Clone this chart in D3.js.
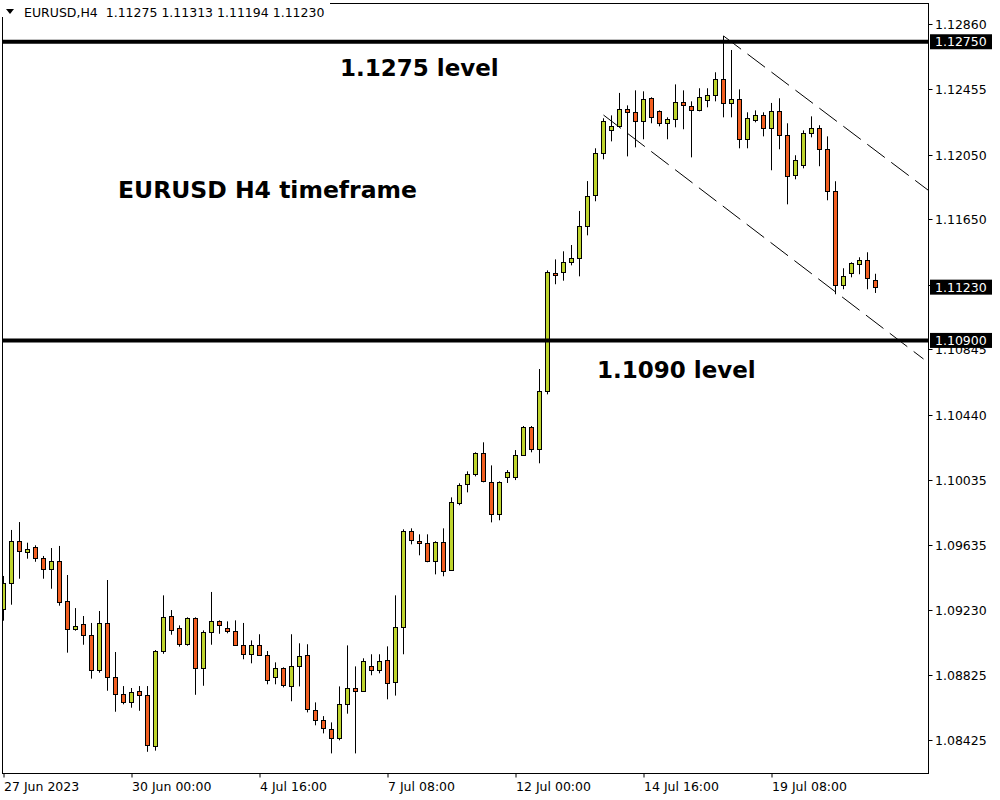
<!DOCTYPE html>
<html><head><meta charset="utf-8">
<script src="https://cdn.jsdelivr.net/npm/d3@7"></script>
<style>
html,body{margin:0;padding:0;background:#fff;}
svg{display:block;}
text{font-family:"DejaVu Sans",Verdana,sans-serif;}
</style></head><body>
<svg id="chart" width="1000" height="800"></svg>
<script>
// ---- DATA ----
const openP = [1.09234,1.09395,1.09656,1.09588,1.09618,1.09550,1.09486,1.09532,1.09284,1.09111,
1.09142,1.09073,1.08857,1.09148,1.08813,1.08708,1.08658,1.08726,1.08702,1.08386,
1.08974,1.09191,1.09117,1.09018,1.09179,1.08869,1.09092,1.09160,1.09117,1.09098,
1.09011,1.08956,1.09011,1.08949,1.08813,1.08869,1.08757,1.08881,1.08949,1.08609,
1.08547,1.08491,1.08435,1.08646,1.08745,1.08726,1.08881,1.08857,1.08919,1.08782,
1.09123,1.09718,1.09656,1.09643,1.09532,1.09649,1.09476,1.09891,1.10009,1.10071,
1.10201,1.10021,1.09823,1.10052,1.10052,1.10190,1.10364,1.10226,1.10587,1.11316,
1.11322,1.11384,1.11409,1.11607,1.11799,1.12059,1.12201,1.12226,1.12332,1.12313,
1.12257,1.12400,1.12319,1.12245,1.12270,1.12375,1.12350,1.12325,1.12387,1.12418,
1.12517,1.12369,1.12394,1.12146,1.12263,1.12294,1.12214,1.12319,1.12171,1.11923,
1.11985,1.12183,1.12214,1.12084,1.11824,1.11241,1.11316,1.11371,1.11396,1.11275];
const highP = [1.09441,1.09726,1.09775,1.09647,1.09631,1.09565,1.09614,1.09627,1.09447,1.09242,
1.09193,1.09150,1.09224,1.09416,1.08970,1.08759,1.08747,1.08759,1.08759,1.08982,
1.09321,1.09230,1.09135,1.09185,1.09185,1.09104,1.09342,1.09166,1.09160,1.09166,
1.09150,1.09042,1.09080,1.08976,1.08906,1.08875,1.09080,1.09024,1.09018,1.08658,
1.08573,1.08534,1.08757,1.09011,1.08881,1.08931,1.08956,1.08956,1.09005,1.09321,
1.09730,1.09736,1.09699,1.09699,1.09656,1.09736,1.09928,1.10015,1.10089,1.10207,
1.10269,1.10126,1.10027,1.10097,1.10221,1.10370,1.10370,1.10723,1.11334,1.11402,
1.11452,1.11491,1.11702,1.11887,1.12090,1.12276,1.12294,1.12433,1.12356,1.12449,
1.12443,1.12406,1.12325,1.12282,1.12486,1.12449,1.12381,1.12462,1.12462,1.12561,
1.12786,1.12699,1.12455,1.12313,1.12325,1.12313,1.12371,1.12400,1.12245,1.12047,
1.12201,1.12288,1.12233,1.12164,1.11886,1.11347,1.11384,1.11415,1.11446,1.11313];
const lowP = [1.09164,1.09263,1.09424,1.09548,1.09529,1.09424,1.09362,1.09257,1.08966,1.09102,
1.09015,1.08805,1.08842,1.08730,1.08600,1.08646,1.08625,1.08606,1.08352,1.08359,
1.08959,1.09077,1.09003,1.09009,1.08705,1.08761,1.09015,1.09083,1.09086,1.09011,
1.08925,1.08900,1.08949,1.08770,1.08770,1.08751,1.08665,1.08757,1.08596,1.08516,
1.08466,1.08342,1.08423,1.08588,1.08342,1.08726,1.08826,1.08838,1.08677,1.08700,
1.08956,1.09637,1.09569,1.09526,1.09451,1.09439,1.09476,1.09879,1.09959,1.10058,
1.10021,1.09773,1.09786,1.10017,1.10035,1.10190,1.10207,1.10139,1.10566,1.11248,
1.11270,1.11365,1.11297,1.11551,1.11762,1.12022,1.12133,1.12220,1.12040,1.12096,
1.12146,1.12245,1.12226,1.12146,1.12220,1.12208,1.12034,1.12319,1.12344,1.12381,
1.12282,1.12282,1.12090,1.12090,1.12251,1.12164,1.11954,1.12084,1.11743,1.11898,
1.11966,1.12158,1.11979,1.11768,1.11186,1.11217,1.11291,1.11310,1.11217,1.11194];
const closeP = [1.09395,1.09656,1.09594,1.09606,1.09550,1.09486,1.09532,1.09278,1.09111,1.09129,
1.09073,1.08857,1.09148,1.08813,1.08708,1.08658,1.08720,1.08702,1.08392,1.08974,
1.09185,1.09104,1.09018,1.09179,1.08869,1.09092,1.09160,1.09135,1.09098,1.09011,
1.08956,1.09011,1.08949,1.08795,1.08869,1.08764,1.08881,1.08943,1.08615,1.08547,
1.08497,1.08435,1.08646,1.08745,1.08726,1.08912,1.08857,1.08912,1.08776,1.09123,
1.09718,1.09662,1.09643,1.09532,1.09649,1.09470,1.09897,1.10003,1.10071,1.10201,
1.10027,1.09823,1.10021,1.10085,1.10190,1.10364,1.10226,1.10587,1.11322,1.11303,
1.11384,1.11409,1.11607,1.11793,1.12059,1.12257,1.12226,1.12332,1.12313,1.12257,
1.12394,1.12282,1.12245,1.12270,1.12375,1.12356,1.12325,1.12406,1.12418,1.12517,
1.12369,1.12394,1.12146,1.12276,1.12294,1.12214,1.12319,1.12171,1.11917,1.12016,
1.12183,1.12214,1.12084,1.11824,1.11241,1.11297,1.11378,1.11396,1.11285,1.11230];

const yTickValues = [1.12860,1.12455,1.12050,1.11650,1.11245,1.10845,1.10440,1.10035,1.09635,1.09230,1.08825,1.08425];
const xTickIndex = [0,16,32,48,64,80,96];
const xTickLabels = ["27 Jun 2023","30 Jun 00:00","4 Jul 16:00","7 Jul 08:00","12 Jul 00:00","14 Jul 16:00","19 Jul 08:00"];
const levelPrices = [1.12750, 1.10900];
const levelTexts = ["1.1275 level", "1.1090 level"];
const currentPrice = 1.11230;
const trendUpper = [[90, 1.12786], [115.6, 1.11830]];
const trendLower = [[75, 1.12296], [115, 1.10785]];
const headerText = "EURUSD,H4  1.11275 1.11313 1.11194 1.11230";
const titleText = "EURUSD H4 timeframe";

// ---- LAYOUT ----
const svg = d3.select("#chart");
const plot = {left: 2.5, top: 3.5, right: 928.5, bottom: 773.5};
const x = d3.scaleLinear().domain([0, 109]).range([3.5, 875.5]);
const y = d3.scaleLinear().domain([1.08425, 1.12860]).range([740, 24]);
const bullColor = "#bed42d", bearColor = "#f25e20";
const smallFont = 12.5;

svg.append("defs").append("clipPath").attr("id","clip")
  .append("rect").attr("x", plot.left+0.5).attr("y", plot.top+0.5)
  .attr("width", plot.right-plot.left-1).attr("height", plot.bottom-plot.top-1);

const g = svg.append("g").attr("clip-path","url(#clip)");

const data = openP.map((o,i)=>({i, o, h: highP[i], l: lowP[i], c: closeP[i]}));

// trend lines (dashed)
const line = d3.line().x(d=>x(d[0])).y(d=>y(d[1]));
[trendUpper, trendLower].forEach(t=>{
  g.append("path").attr("d", line(t)).attr("fill","none")
   .attr("stroke","#000").attr("stroke-width",1).attr("stroke-dasharray","22,8");
});

// candles
const cg = g.append("g");
cg.selectAll("line.wick").data(data).join("line")
  .attr("x1", d=>x(d.i)).attr("x2", d=>x(d.i))
  .attr("y1", d=>y(d.h)).attr("y2", d=>y(d.l))
  .attr("stroke","#000").attr("stroke-width",1);
cg.selectAll("rect.body").data(data).join("rect")
  .attr("x", d=>x(d.i)-2)
  .attr("y", d=>Math.round(y(Math.max(d.o,d.c)))+0.5)
  .attr("width", 4)
  .attr("height", d=>Math.max(1, Math.round(y(Math.min(d.o,d.c))) - Math.round(y(Math.max(d.o,d.c)))))
  .attr("fill", d=> d.c >= d.o ? bullColor : bearColor)
  .attr("stroke","#000").attr("stroke-width",1);

// level lines
levelPrices.forEach(p=>{
  g.append("line").attr("x1", plot.left).attr("x2", plot.right)
   .attr("y1", y(p)).attr("y2", y(p)).attr("stroke","#000").attr("stroke-width",4);
});

// frame
svg.append("rect").attr("x",plot.left).attr("y",plot.top)
  .attr("width",plot.right-plot.left).attr("height",plot.bottom-plot.top)
  .attr("fill","none").attr("stroke","#000").attr("stroke-width",1);

// right axis
const ax = svg.append("g");
yTickValues.forEach(v=>{
  const yy = Math.round(y(v))+0.5;
  ax.append("line").attr("x1",plot.right).attr("x2",plot.right+4).attr("y1",yy).attr("y2",yy).attr("stroke","#000");
  ax.append("text").attr("x",935).attr("y",yy).attr("dy","0.36em")
    .attr("font-size",smallFont).attr("fill","#000").text(v.toFixed(5));
});
// price labels
[...levelPrices, currentPrice].forEach(p=>{
  const yy = y(p);
  ax.append("rect").attr("x",930).attr("y",yy-7.5).attr("width",62).attr("height",15).attr("fill","#000");
  ax.append("text").attr("x",935).attr("y",yy).attr("dy","0.36em")
    .attr("font-size",smallFont).attr("fill","#fff").text(p.toFixed(5));
});

// bottom axis
xTickIndex.forEach((ti,k)=>{
  const xx = Math.round(x(ti))-0.5+0.5;
  ax.append("line").attr("x1",xx).attr("x2",xx).attr("y1",plot.bottom).attr("y2",plot.bottom+4).attr("stroke","#000");
  ax.append("text").attr("x",xx).attr("y",791).attr("font-size",smallFont).attr("fill","#000").text(xTickLabels[k]);
});

// header
svg.append("rect").attr("x",0).attr("y",0).attr("width",330).attr("height",17).attr("fill","#fff");
svg.append("path").attr("d","M6,9 L14,9 L10,14 Z").attr("fill","#000");
svg.append("text").attr("x",24).attr("y",17).attr("font-size",smallFont).style("white-space","pre").attr("fill","#000").text(headerText);

// annotations
const ann = svg.append("g").attr("font-weight","bold").attr("font-size",23).attr("fill","#000");
ann.append("text").attr("x",340).attr("y",76).text(levelTexts[0]);
ann.append("text").attr("x",118).attr("y",198).attr("font-size",23.5).text(titleText);
ann.append("text").attr("x",597).attr("y",378).text(levelTexts[1]);
</script>
</body></html>
